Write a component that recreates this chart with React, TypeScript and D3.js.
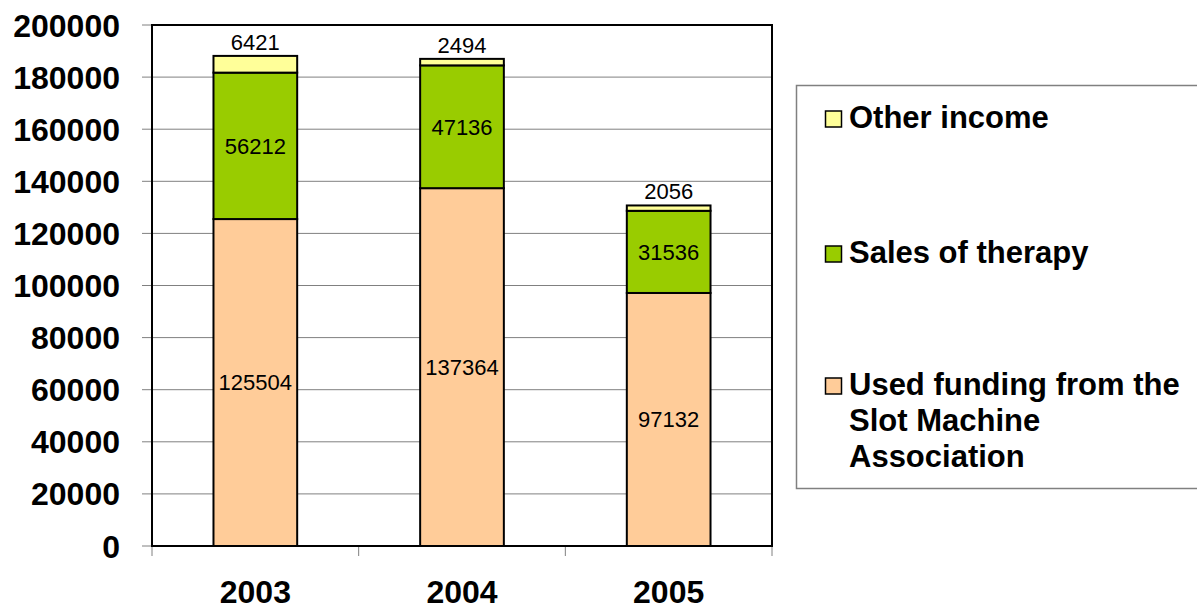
import * as d3 from "d3";

const years = ["2003", "2004", "2005"];
const funding = [125504, 137364, 97132];
const sales = [56212, 47136, 31536];
const other = [6421, 2494, 2056];
const yTicks = [0, 20000, 40000, 60000, 80000, 100000, 120000, 140000, 160000, 180000, 200000];

const legendLines = [["Other income"], ["Sales of therapy"], ["Used funding from the", "Slot Machine", "Association"]];
const colors = ["#FFCC99", "#99CC00", "#FFFF99"];

const W = 1197;
const H = 610;
const plot = { left: 152, right: 772, top: 25, bottom: 546 };
const font = "'Liberation Sans', Arial, sans-serif";

const App = () => {
  const x = d3.scaleBand<string>().domain(years).range([plot.left, plot.right]).padding(0);
  const y = d3.scaleLinear().domain([0, 200000]).range([plot.bottom, plot.top]);
  const barW = x.bandwidth() * 0.405;

  const rows = years.map((yr, i) => ({ year: yr, funding: funding[i], sales: sales[i], other: other[i] }));
  const stack = d3.stack<any>().keys(["funding", "sales", "other"])(rows);

  // legend layout (text baselines)
  const legendRows = [
    { color: colors[2], lines: legendLines[0], base: 128 },
    { color: colors[1], lines: legendLines[1], base: 263 },
    { color: colors[0], lines: legendLines[2], base: 395 },
  ];

  return (
    <svg width={W} height={H} style={{ position: "absolute", left: 0, top: 0, background: "#fff" }} fontFamily={font}>
      {/* gridlines + y axis */}
      {yTicks.map((t) => (
        <g key={t}>
          <line x1={plot.left} x2={plot.right} y1={y(t)} y2={y(t)} stroke="#808080" strokeWidth={1} />
          <line x1={plot.left - 10} x2={plot.left} y1={y(t)} y2={y(t)} stroke="#808080" strokeWidth={1} />
          <text x={120} y={y(t)} dy="0.36em" textAnchor="end" fontSize={32} fontWeight="bold" fill="#000">
            {t}
          </text>
        </g>
      ))}

      {/* x ticks at category boundaries */}
      {[...years.map((yr) => x(yr) as number), plot.right].map((v, i) => (
        <line key={i} x1={v} x2={v} y1={plot.bottom} y2={plot.bottom + 10} stroke="#808080" strokeWidth={1} />
      ))}

      {/* bars */}
      {stack.map((s, si) =>
        s.map((d, i) => {
          const cx = (x(years[i]) as number) + x.bandwidth() / 2;
          return (
            <rect
              key={`${si}-${i}`}
              x={cx - barW / 2}
              y={y(d[1])}
              width={barW}
              height={y(d[0]) - y(d[1])}
              fill={colors[si]}
              stroke="#000"
              strokeWidth={2}
            />
          );
        })
      )}

      {/* value labels */}
      {stack.map((s, si) =>
        s.map((d, i) => {
          const cx = (x(years[i]) as number) + x.bandwidth() / 2;
          const v = d[1] - d[0];
          if (si === 2) {
            return (
              <text key={`l${si}-${i}`} x={cx} y={y(d[1]) - 6} textAnchor="middle" fontSize={22} fill="#000">
                {v}
              </text>
            );
          }
          return (
            <text key={`l${si}-${i}`} x={cx} y={(y(d[0]) + y(d[1])) / 2} dy="0.36em" textAnchor="middle" fontSize={22} fill="#000">
              {v}
            </text>
          );
        })
      )}

      {/* plot border */}
      <rect x={plot.left} y={plot.top} width={plot.right - plot.left} height={plot.bottom - plot.top} fill="none" stroke="#000" strokeWidth={2} />

      {/* x labels */}
      {years.map((yr) => (
        <text key={yr} x={(x(yr) as number) + x.bandwidth() / 2} y={603} textAnchor="middle" fontSize={32} fontWeight="bold" fill="#000">
          {yr}
        </text>
      ))}

      {/* legend */}
      <rect x={796.5} y={85.5} width={420} height={403} fill="#fff" stroke="#808080" strokeWidth={1.5} />
      {legendRows.map((r, i) => (
        <g key={i}>
          <rect x={825.5} y={r.base - 17} width={16} height={16} fill={r.color} stroke="#000" strokeWidth={1.5} />
          {r.lines.map((ln, j) => (
            <text key={j} x={849} y={r.base + j * 36} fontSize={31} fontWeight="bold" fill="#000">
              {ln}
            </text>
          ))}
        </g>
      ))}
    </svg>
  );
};

export default App;
